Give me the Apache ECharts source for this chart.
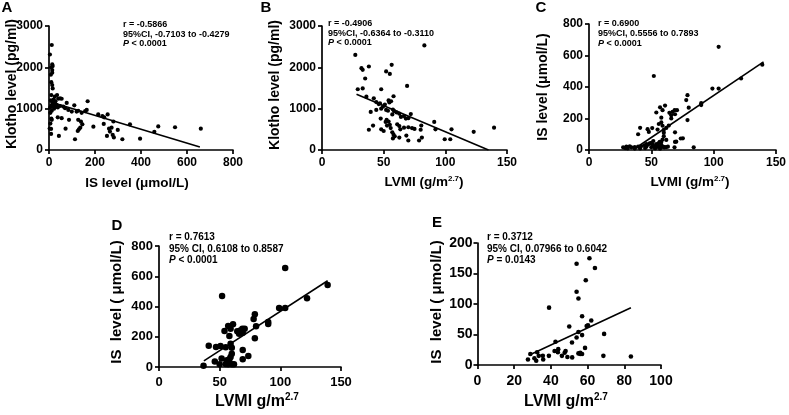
<!DOCTYPE html>
<html>
<head>
<meta charset="utf-8">
<script src="https://cdn.jsdelivr.net/npm/echarts@6/dist/echarts.min.js"></script>
<style>html,body{margin:0;padding:0;background:#fff}#c{width:789px;height:415px}</style>
</head>
<body>
<div id="c"></div>
<script>
// ---------- DATA ----------
// Panel A: IS level (umol/L) vs Klotho level (pg/ml)
const aX = [12,4,14,16,10,14,14,8,10,14,16,10,25,35,40,48,55,77,110,168,26,33,38,19,48,62,70,84,99,120,127,142,157,164,214,232,240,255,12,38,55,87,127,280,352,475,548,660,458,9,72,139,145,136,130,125,193,238,261,272,299,265,252,277,282,319,396,43,113,9,8,18,22,12,6,28,20,30,15,5,10,24,3,10,6];
const aY = [2540,2310,2070,2030,2000,1935,1870,1820,1640,1570,1490,1330,1290,1330,1240,1250,1240,1140,1080,1180,1130,1090,1030,1050,1065,1050,1010,970,930,930,950,900,940,970,860,820,790,860,730,790,770,730,730,690,620,570,550,515,440,510,515,685,620,540,500,460,565,630,515,540,485,445,340,365,305,260,275,340,260,390,1200,1150,1000,950,900,1180,1220,1100,1100,1020,1080,1050,520,760,640];
const aFitX = [3,656];
const aFitY = [1165,75];

// Panel B: LVMI (g/m^2.7) vs Klotho level (pg/ml)
const bX = [27,83,32,33,38,35,56.5,52,55,69,29,33,48,36,42,58,44,47,46,49.5,54,54.6,56,51,48,52,53.5,39.5,44,57.5,58.6,60.5,62.7,57,64,66.5,68,70,72,47.6,52.4,54,55,55.7,51.6,52.7,48,50,38,41.4,57,58,59,57.5,62.7,68.4,70,63.5,66.5,70,73,80.5,80,81,78.7,75,91,92,105,99.5,104,123,139.5,61,62.7];
const bY = [2300,2530,1980,1940,2020,1730,2060,1900,1840,1550,1470,1490,1470,1290,1250,1300,1160,1130,1110,1050,1200,1150,1180,1100,1000,970,950,920,970,980,940,910,880,860,800,820,760,770,870,760,730,690,610,530,680,590,500,460,490,590,430,370,330,280,300,350,230,500,540,550,530,590,490,300,230,510,680,500,500,260,260,440,540,620,580];
const bFitX = [28,135];
const bFitY = [1350,0];

// Panel C: LVMI (g/m^2.7) vs IS level (umol/L)
const cX = [104,52,139,122,99,104,90,90,79,78,80,79,57,61,59,54,64.5,67,68.7,70.6,66,69,58,41,47,50.7,55,59,60,60,59,69,73.6,69,51.6,56,46,36.7,50,55,57,60,61.8,58,27.4,30,32.7,34,36.7,39.4,42,44.7,47.3,48.7,50,51.3,52.7,54,55.3,56.7,58,59.3,60.6,62,63.3,70,75.3,68.6,84,39.4,29,31,45,53,57,46,41,48,56,58,62,60,66,64];
const cY = [655,470,542,454,390,390,297,285,348,317,269,190,271,282,253,238,236,242,253,253,220,227,205,141,132,139,130,154,128,88,66,112,73,51,57,44,37,9,18,20,18,18,18,51,17,21,23,17,19,21,25,30,34,42,46,32,21,38,25,51,32,21,17,64,21,53,74,17,17,100,12,10,12,10,8,20,10,115,165,175,140,110,200,155];
const cFitX = [36,140];
const cFitY = [5,560];

// Panel D: LVMI g/m^2.7 vs IS level (umol/L)
const dX = [104,52,139,122,99,104,90,90,79,78,80,79,57,61,59,54,64.5,67,68.7,70.6,66,69,58,41,47,50.7,55,59,60,60,59,69,73.6,69,51.6,56,46,36.7,50,55,57,60,61.8,58];
const dY = [655,470,542,454,390,390,297,285,348,317,269,190,271,282,253,238,236,242,253,253,220,227,205,141,132,139,130,154,128,88,66,112,73,51,57,44,37,9,18,20,18,18,18,51];
const dFitX = [37,139];
const dFitY = [40,570];

// Panel E: LVMI g/m^2.7 vs IS level (umol/L)
const eX = [54,61,64,59,54,55,39,57,62,50,59.5,60.2,69,55,57,54,51.5,42.5,58.6,44,42,48,47.5,56,55,56,57,46,49,51.6,68.6,83.6,28.8,27.5,31,32.5,32,33.4,35.8,35.6,38.9,43.8];
const eY = [166,175,159,139,120,109,94,80,73,63,64,65,51,54,49,45,37,38,28,26,23,23,20,20,19,18,18,15,13,12.5,15,14,18,9,11,21,7,15,9,15,15,21];
const eFitX = [28,83.6];
const eFitY = [16,94];

// Axis tick settings [min, max, interval]
const axA = {x:[0,800,200], y:[0,3000,1000]};
const axB = {x:[0,150,50], y:[0,3000,1000]};
const axC = {x:[0,150,50], y:[0,800,200]};
const axD = {x:[0,150,50], y:[0,800,200]};
const axE = {x:[0,100,20], y:[0,200,50]};

// Texts
const stats = {
  A: ['r = -0.5866', '95%CI, -0.7103 to -0.4279', ' < 0.0001'],
  B: ['r = -0.4906', '95%CI, -0.6364 to -0.3110', ' < 0.0001'],
  C: ['r = 0.6900', '95%CI, 0.5556 to 0.7893', ' < 0.0001'],
  D: ['r = 0.7613', '95% CI, 0.6108 to 0.8587', ' < 0.0001'],
  E: ['r = 0.3712', '95% CI, 0.07966 to 0.6042', ' = 0.0143']
};

// ---------- CHART ----------
const FONT = 'Liberation Sans, Arial, sans-serif';
const zip = (xs, ys) => xs.map((x, i) => [x, ys[i]]);

const grids = [
  {left: 49, top: 26, width: 184, height: 124},
  {left: 322, top: 26, width: 185, height: 124},
  {left: 589, top: 24, width: 188, height: 126},
  {left: 159, top: 246, width: 182, height: 121},
  {left: 477.5, top: 243, width: 183.5, height: 122}
];
const axes = [axA, axB, axC, axD, axE];
const tickFs = [12, 12, 12, 13, 14];
const xMargin = [7, 7, 7, 9, 9];
const yMargin = [6, 6, 6, 6, 5];

function mkAxis(kind, i, r) {
  return {
    type: 'value', gridIndex: i, min: r[0], max: r[1], interval: r[2],
    axisLine: {show: true, onZero: false, lineStyle: {color: '#000', width: 1.7}},
    axisTick: {show: true, length: 4, inside: false, lineStyle: {color: '#000', width: 1.7}},
    axisLabel: {show: true, color: '#000', fontFamily: FONT, fontWeight: 'bold', fontSize: tickFs[i],
      margin: kind === 'x' ? xMargin[i] : yMargin[i], showMinLabel: true, showMaxLabel: true, hideOverlap: false,
      formatter: v => String(v)},
    splitLine: {show: false}, splitArea: {show: false}
  };
}

const xAxis = axes.map((a, i) => mkAxis('x', i, a.x));
const yAxis = axes.map((a, i) => mkAxis('y', i, a.y));

const pts = [zip(aX, aY), zip(bX, bY), zip(cX, cY), zip(dX, dY), zip(eX, eY)];
const fits = [zip(aFitX, aFitY), zip(bFitX, bFitY), zip(cFitX, cFitY), zip(dFitX, dFitY), zip(eFitX, eFitY)];
const symSize = [4.2, 4.2, 4.2, 6.5, 4.6];

const series = [];
pts.forEach((d, i) => {
  series.push({type: 'scatter', xAxisIndex: i, yAxisIndex: i, data: d, symbol: 'circle',
    symbolSize: symSize[i], itemStyle: {color: '#000', opacity: 1}, silent: true, clip: false});
  series.push({type: 'line', xAxisIndex: i, yAxisIndex: i, data: fits[i], symbol: 'none', showSymbol: false,
    lineStyle: {color: '#000', width: 1.6}, silent: true, z: 3});
});

function txt(x, y, text, fs, extra) {
  return Object.assign({type: 'text', x: x, y: y, silent: true,
    style: Object.assign({text: text, fill: '#000', fontFamily: FONT, fontWeight: 'bold', fontSize: fs,
      align: 'center', verticalAlign: 'middle'}, (extra && extra.style) || {})},
    extra && extra.el || {});
}

function statBlock(x, y, s, fs, lh) {
  return {type: 'text', x: x, y: y, silent: true, style: {
    text: '{b|' + s[0] + '}\n{b|' + s[1] + '}\n{i|P}{b|' + s[2] + '}',
    align: 'left', verticalAlign: 'top', fill: '#000',
    rich: {
      b: {fontFamily: FONT, fontWeight: 'bold', fontSize: fs, lineHeight: lh, fill: '#000'},
      i: {fontFamily: FONT, fontWeight: 'bold', fontStyle: 'italic', fontSize: fs, lineHeight: lh, fill: '#000'}
    }}};
}

// title with superscript: main text + raised small text, as two text pieces grouped
function supTitle(x, y, main, sup, tail, fs) {
  const sfs = Math.round(fs * 0.62);
  return {type: 'text', x: x, y: y, silent: true, style: {
    text: '{a|' + main + '}{s|' + sup + '}{a|' + tail + '}',
    align: 'center', verticalAlign: 'middle', fill: '#000',
    rich: {
      a: {fontFamily: FONT, fontWeight: 'bold', fontSize: fs, lineHeight: fs + 4, fill: '#000'},
      s: {fontFamily: FONT, fontWeight: 'bold', fontSize: sfs, lineHeight: sfs, padding: [0, 0, Math.round(fs * 0.55), 0], fill: '#000'}
    }}};
}

const rot = {el: {rotation: Math.PI / 2}};
const graphic = [
  // panel letters
  txt(7, 8, 'A', 15), txt(266, 8, 'B', 15), txt(541, 8, 'C', 15),
  txt(117, 226, 'D', 15), txt(437, 223, 'E', 15),
  // y titles
  txt(12, 84, 'Klotho level (pg/ml)', 14, rot),
  txt(275, 85, 'Klotho level (pg/ml)', 14, rot),
  txt(543, 87, 'IS level (\u03bcmol/L)', 14, rot),
  txt(117, 302, 'IS  level ( \u03bcmol/L)', 15, rot),
  txt(437, 302, 'IS  level ( \u03bcmol/L)', 15, rot),
  // x titles
  txt(137, 183, 'IS level (\u03bcmol/L)', 13.5),
  supTitle(424, 182, 'LVMI (g/m', '2.7', ')', 13.5),
  supTitle(690, 182, 'LVMI (g/m', '2.7', ')', 13.5),
  supTitle(257, 402, 'LVMI g/m', '2.7', '', 16),
  supTitle(566, 402, 'LVMI g/m', '2.7', '', 16),
  // stats
  statBlock(123, 19.5, stats.A, 9, 9.7),
  statBlock(328, 18.5, stats.B, 9, 9.7),
  statBlock(598, 19, stats.C, 9, 9.7),
  statBlock(169, 231.5, stats.D, 10, 11.5),
  statBlock(487, 231.5, stats.E, 10, 11.5)
];

const chart = echarts.init(document.getElementById('c'), null, {renderer: 'canvas', width: 789, height: 415});
chart.setOption({
  backgroundColor: '#fff',
  animation: false,
  grid: grids.map(g => Object.assign({containLabel: false, show: false}, g)),
  xAxis: xAxis,
  yAxis: yAxis,
  series: series,
  graphic: graphic
});
</script>
</body>
</html>
